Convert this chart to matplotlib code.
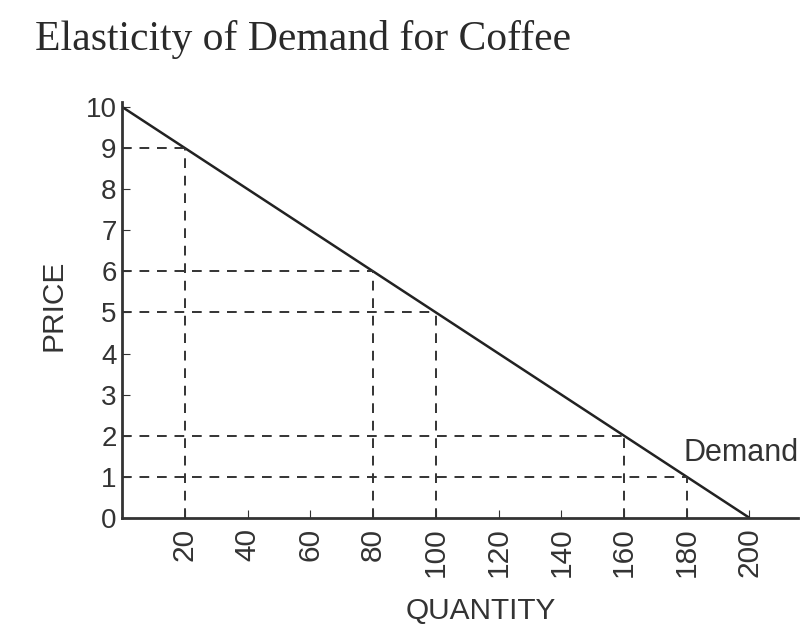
import matplotlib
matplotlib.use("Agg")
from matplotlib import pyplot as plt

#--- Data
demand_qty = [0, 200]
demand_price = [10, 0]
point_qty = [20, 80, 100, 160, 180]
point_price = [9, 6, 5, 2, 1]
x_ticks = [20, 40, 60, 80, 100, 120, 140, 160, 180, 200]
y_ticks = [0, 1, 2, 3, 4, 5, 6, 7, 8, 9, 10]

plt.rcParams['font.family'] = ['Liberation Sans', 'DejaVu Sans']

fig = plt.figure(figsize=(8.04, 6.3), dpi=100)
ax = fig.add_axes([0.152, 0.178, 0.841, 0.66])

#--- Demand line
ax.plot(demand_qty, demand_price, color="#222222", lw=1.8, solid_capstyle="butt")

#--- Dashed guides
for q, p in zip(point_qty, point_price):
    ax.plot([0, q], [p, p], color="#333333", lw=1.4, ls=(0, (5, 4)))
    ax.plot([q, q], [0, p], color="#333333", lw=1.4, ls=(0, (5, 4)))

ax.text(179, 1.22, "Demand", fontsize=22, color="#333333", ha="left", va="bottom")

ax.set_xlim(0, 215.6)
ax.set_ylim(0, 10.12)
ax.set_xticks(x_ticks)
ax.set_yticks(y_ticks)
ax.tick_params(axis="x", direction="in", length=6, labelsize=21.5, rotation=90,
               pad=7, colors="#333333")
ax.tick_params(axis="y", direction="in", length=6, labelsize=20, pad=4,
               colors="#333333")
for s in ["top", "right"]:
    ax.spines[s].set_visible(False)
for s in ["left", "bottom"]:
    ax.spines[s].set_linewidth(2.0)
    ax.spines[s].set_color("#333333")

ax.set_xlabel("QUANTITY", fontsize=21.5, color="#333333")
ax.set_ylabel("PRICE", fontsize=21.5, color="#333333")
ax.xaxis.set_label_coords(0.531, -0.19)
ax.yaxis.set_label_coords(-0.081, 0.512)

fig.text(0.044, 0.938, "Elasticity of Demand for Coffee", fontsize=30,
         family="Liberation Serif", color="#2a2a2a",
         ha="left", va="center")

fig.savefig("out.png", dpi=100)
